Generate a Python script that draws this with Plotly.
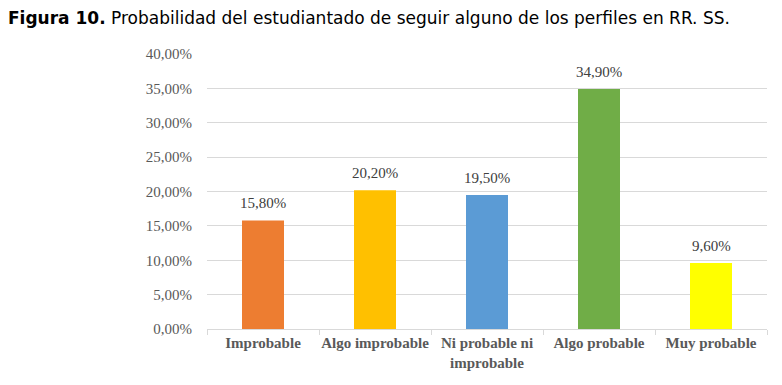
import plotly.graph_objects as go

categories = ["Improbable", "Algo improbable", "Ni probable ni<br>improbable", "Algo probable", "Muy probable"]
values = [15.8, 20.2, 19.5, 34.9, 9.6]
colors = ["#ED7D31", "#FFC000", "#5B9BD5", "#70AD47", "#FFFF00"]
tick_vals = [0, 5, 10, 15, 20, 25, 30, 35, 40]
tick_text = ["0,00%", "5,00%", "10,00%", "15,00%", "20,00%", "25,00%", "30,00%", "35,00%", "40,00%"]

labels = [f"{v:.2f}".replace(".", ",") + "%" for v in values]

fig = go.Figure(go.Bar(
    x=categories, y=values, marker=dict(color=colors, line=dict(width=0)),
))

for c, v, t in zip(categories, values, labels):
    fig.add_annotation(x=c, y=v, text=t, showarrow=False, yanchor="middle", yshift=17,
                       font=dict(family="Liberation Serif", size=15, color="#404040"))

fig.update_layout(
    width=782, height=385,
    margin=dict(l=207, r=15, t=54, b=56),
    paper_bgcolor="white", plot_bgcolor="white",
    bargap=0.625,
    showlegend=False,
    title=dict(text="<b>Figura 10.</b> Probabilidad del estudiantado de seguir alguno de los perfiles en RR. SS.",
               x=8/782, xanchor="left", y=1-18/385, yanchor="middle", yref="container", xref="container",
               font=dict(family="DejaVu Sans", size=17, color="#000000")),
    yaxis=dict(range=[0, 40], tickvals=tick_vals, ticktext=tick_text, showgrid=True,
               gridcolor="#D9D9D9", gridwidth=1, zeroline=False, showline=False,
               ticklabelstandoff=14, automargin=False,
               tickfont=dict(family="Liberation Serif", size=15, color="#595959")),
    xaxis=dict(showline=True, linecolor="#D9D9D9", linewidth=1, ticks="outside",
               tickson="boundaries", ticklen=5, tickcolor="#D9D9D9", tickangle=0,
               automargin=False,
               tickfont=dict(family="Liberation Serif", size=15, color="#595959"),
               tickprefix="<b>", ticksuffix="</b>"),
)

fig.write_html("out.html", post_script="document.body.style.margin='0';",
               config={"displayModeBar": False})
